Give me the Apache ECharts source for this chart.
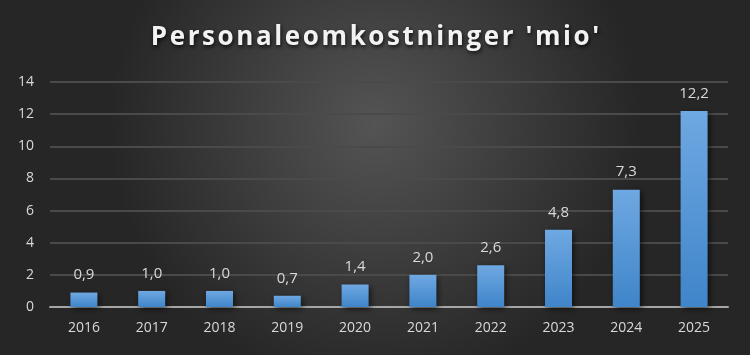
<!DOCTYPE html>
<html><head><meta charset="utf-8">
<script src="https://cdn.jsdelivr.net/npm/echarts@6/dist/echarts.min.js"></script>
<style>html,body{margin:0;padding:0;background:#333;}#c{width:750px;height:355px;}</style>
</head><body><div id="c"></div>
<script>
const categories = ['2016','2017','2018','2019','2020','2021','2022','2023','2024','2025'];
const values = [0.9, 1.0, 1.0, 0.7, 1.4, 2.0, 2.6, 4.8, 7.3, 12.2];
const titleText = "Personaleomkostninger 'mio'";

const chart = echarts.init(document.getElementById('c'));
chart.setOption({
  backgroundColor: {
    type: 'radial', x: 0.5, y: 0.35, r: 0.75,
    colorStops: [{offset: 0, color: '#545454'}, {offset: 1, color: '#262626'}]
  },
  title: {
    text: titleText.split('').join('\u200A'),
    left: 'center', top: 20,
    textStyle: {
      color: '#f2f2f2', fontSize: 26, fontWeight: 'bold', fontFamily: 'Open Sans',
      textShadowColor: 'rgba(0,0,0,0.8)', textShadowBlur: 4, textShadowOffsetX: 1, textShadowOffsetY: 2
    }
  },
  grid: { left: 50, right: 22, top: 82, bottom: 48, containLabel: false },
  xAxis: {
    type: 'category', data: categories,
    axisLine: { lineStyle: { color: '#a6a6a6', width: 2 } },
    axisTick: { show: false },
    axisLabel: { color: '#d9d9d9', fontSize: 14, fontFamily: 'Open Sans', margin: 14 }
  },
  yAxis: {
    type: 'value', min: 0, max: 14, interval: 2,
    axisLine: { show: false }, axisTick: { show: false },
    axisLabel: { color: '#d9d9d9', fontSize: 14, fontFamily: 'Open Sans', margin: 16 },
    splitLine: { lineStyle: { color: '#4a4a4a', width: 2 } }
  },
  series: [{
    type: 'bar', data: values, barWidth: 27,
    itemStyle: {
      color: { type: 'linear', x: 0, y: 0, x2: 0, y2: 1,
        colorStops: [{offset: 0, color: '#6fa8e2'}, {offset: 1, color: '#3f85c9'}] },
      shadowColor: 'rgba(0,0,0,0.6)', shadowBlur: 6, shadowOffsetX: 2, shadowOffsetY: 2
    },
    label: {
      show: true, position: 'top', distance: 10, color: '#d9d9d9', fontSize: 15, fontFamily: 'Open Sans',
      formatter: p => p.value.toFixed(1).replace('.', ',')
    }
  }]
});
</script></body></html>
